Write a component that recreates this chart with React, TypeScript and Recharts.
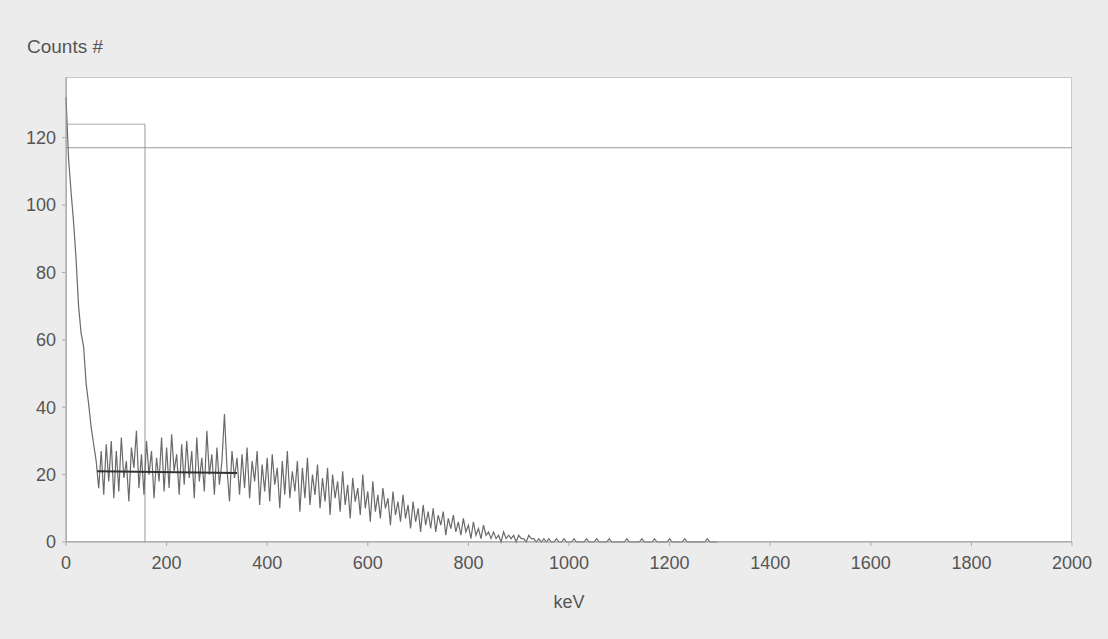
import React from 'react'
import {
  LineChart,
  Line,
  XAxis,
  YAxis,
  ReferenceLine,
  CartesianGrid,
} from 'recharts'

// counts per 5 keV channel, starting at 0 keV
const counts = [
  132, 114, 104, 95, 84, 70, 62, 58, 47, 41,
  34, 29, 24, 16, 27, 14, 29, 18, 30, 13,
  27, 15, 31, 19, 24, 12, 28, 22, 33, 16,
  26, 14, 30, 20, 27, 13, 25, 18, 31, 15,
  28, 16, 32, 21, 26, 14, 29, 17, 30, 19,
  27, 13, 31, 18, 25, 15, 33, 20, 26, 14,
  28, 17, 24, 38, 22, 12, 27, 19, 25, 14,
  26, 16, 28, 13, 24, 18, 27, 11, 23, 15,
  25, 12, 26, 17, 22, 10, 24, 14, 27, 13,
  21, 15, 24, 9, 22, 13, 25, 11, 20, 14,
  23, 10, 19, 12, 22, 8, 20, 13, 18, 9,
  21, 11, 17, 7, 19, 12, 16, 8, 20, 10,
  15, 6, 18, 9, 14, 7, 16, 10, 13, 5,
  15, 8, 12, 6, 14, 7, 11, 4, 12, 6,
  10, 3, 11, 5, 9, 4, 10, 3, 8, 5,
  9, 2, 7, 4, 8, 3, 6, 2, 7, 3,
  5, 1, 6, 2, 4, 1, 5, 2, 3, 1,
  3, 1, 2, 0, 3, 1, 2, 1, 2, 0,
  2, 1, 1, 0, 2, 1, 1, 0, 1, 0,
  1, 0, 1, 0, 0, 1, 0, 0, 1, 0,
  0, 0, 1, 0, 0, 0, 0, 1, 0, 0,
  0, 1, 0, 0, 0, 0, 1, 0, 0, 0,
  0, 0, 0, 1, 0, 0, 0, 0, 0, 1,
  0, 0, 0, 0, 1, 0, 0, 0, 0, 0,
  1, 0, 0, 0, 0, 0, 1, 0, 0, 0,
  0, 0, 0, 0, 0, 1, 0, 0, 0, 0,
]
const channelWidth = 5

const xTicks = [0, 200, 400, 600, 800, 1000, 1200, 1400, 1600, 1800, 2000]
const yTicks = [0, 20, 40, 60, 80, 100, 120]

// region markers (keV, counts)
const roiLevel = 117
const roiBox = [{ x: 2, y: 124 }, { x: 157, y: 124 }]
const roiEdge = [{ x: 157, y: 0 }, { x: 157, y: 124 }]
const meanSegment = [{ x: 62, y: 21 }, { x: 340, y: 20.5 }]

const data = counts.map((c, i) => ({ kev: i * channelWidth, counts: c }))

const font = 'Liberation Sans, Arial, sans-serif'
const tickStyle = { fill: '#555', fontSize: 18, fontFamily: font }

export default function App() {
  return (
    <div style={{ position: 'absolute', left: 0, top: 0, width: 1108, height: 639, background: '#ececec' }}>
      <div style={{ position: 'absolute', left: 66, top: 77, width: 1006, height: 465, background: '#fff', border: '1px solid #c8c8c8', boxSizing: 'border-box' }} />
      <div style={{ position: 'absolute', left: 27, top: 36, fontSize: 19, color: '#555', fontFamily: font }}>
        Counts #
      </div>
      <div style={{ position: 'absolute', left: 0, top: 0 }}>
        <LineChart width={1108} height={639} data={data} margin={{ top: 77, right: 36, left: 0, bottom: 17 }}>
          <CartesianGrid horizontal={false} vertical={false} />
          <XAxis
            dataKey="kev"
            type="number"
            domain={[0, 2000]}
            ticks={xTicks}
            height={80}
            tick={tickStyle}
            tickLine={{ stroke: '#aaa' }}
            axisLine={{ stroke: '#999' }}
            tickSize={4}
            tickMargin={10}
            label={{ value: 'keV', position: 'insideBottom', offset: 14, style: { ...tickStyle, fontSize: 18 } }}
          />
          <YAxis
            type="number"
            domain={[0, 138]}
            ticks={yTicks}
            width={66}
            tick={tickStyle}
            tickLine={{ stroke: '#aaa' }}
            axisLine={{ stroke: '#999' }}
            tickSize={4}
            tickMargin={6}
          />
          <ReferenceLine y={roiLevel} stroke="#9a9a9a" strokeWidth={1} />
          <ReferenceLine segment={roiBox} stroke="#aaa" strokeWidth={1} />
          <ReferenceLine segment={roiEdge} stroke="#999" strokeWidth={1} />
          <Line
            type="linear"
            dataKey="counts"
            stroke="#6a6a6a"
            strokeWidth={1.2}
            dot={false}
            isAnimationActive={false}
          />
          <ReferenceLine segment={meanSegment} stroke="#333" strokeWidth={2} />
        </LineChart>
      </div>
    </div>
  )
}
